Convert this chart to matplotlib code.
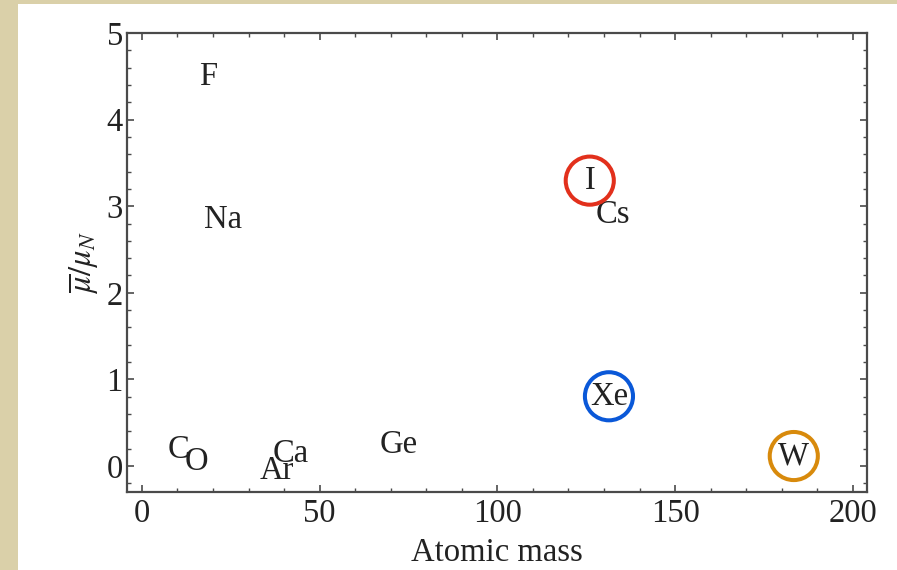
import matplotlib
matplotlib.use("Agg")
import matplotlib.pyplot as plt
from matplotlib.patches import Rectangle
from matplotlib.ticker import MultipleLocator
from matplotlib.transforms import offset_copy

plt.rcParams['font.family'] = ['Liberation Serif', 'DejaVu Serif']
plt.rcParams['mathtext.fontset'] = 'stix'

# Element labels placed at (atomic mass, mean moment / nuclear magneton)
elements = ['C', 'O', 'F', 'Na', 'Ar', 'Ca', 'Ge', 'I', 'Cs', 'Xe', 'W']
atomic_mass = [10.3, 15.2, 18.7, 22.9, 38.0, 41.9, 72.3, 126.0, 132.5, 131.4, 183.4]
moment = [0.22, 0.08, 4.53, 2.88, -0.02, 0.18, 0.28, 3.33, 2.94, 0.84, 0.15]

# Highlighted elements and their ring colours
highlighted = ['I', 'Xe', 'W']
ring_colors = ['#E2301C', '#0A58D8', '#D88A0C']

W_PX, H_PX = 897, 570
fig = plt.figure(figsize=(W_PX / 100, H_PX / 100), dpi=100)
fig.patch.set_facecolor('#DAD0A9')

# white slide panel behind the axes
fig.patches.append(Rectangle((18 / W_PX, 0), 1 - 18 / W_PX, 1 - 4 / H_PX,
                             transform=fig.transFigure, facecolor='white',
                             edgecolor='none', zorder=-5))

ax = fig.add_axes([127 / W_PX, (H_PX - 492) / H_PX,
                   (867 - 127) / W_PX, (492 - 33) / H_PX])
ax.set_facecolor('white')
ax.set_xlim(-4.2, 204)
ax.set_ylim(-0.3, 5.0)

txt_color = '#222222'
spine_color = '#4a4a4a'
fs = 23.5

# nudge labels down so the glyphs (not the descender box) sit on the point
label_tf = offset_copy(ax.transData, fig=fig, x=0, y=-3, units='dots')
for name, x, y in zip(elements, atomic_mass, moment):
    ax.text(x, y, name, ha='center', va='center', fontsize=fs,
            color=txt_color, transform=label_tf)

# rings around the highlighted labels, sharing the same offset
for name, col in zip(highlighted, ring_colors):
    i = elements.index(name)
    ax.scatter([atomic_mass[i]], [moment[i]], s=1200, facecolors='none',
               edgecolors=col, linewidths=2.9, zorder=3, transform=label_tf)

ax.xaxis.set_major_locator(MultipleLocator(50))
ax.xaxis.set_minor_locator(MultipleLocator(10))
ax.yaxis.set_major_locator(MultipleLocator(1))
ax.yaxis.set_minor_locator(MultipleLocator(0.2))

ax.tick_params(which='both', direction='in', top=True, right=True,
               color=spine_color, labelcolor=txt_color, labelsize=fs)
ax.tick_params(which='major', length=5, width=1.2)
ax.tick_params(which='minor', length=3, width=1.0)
ax.tick_params(axis='x', which='major', pad=5)
ax.tick_params(axis='y', which='major', pad=3)

for sp in ax.spines.values():
    sp.set_color(spine_color)
    sp.set_linewidth(1.6)

ax.set_xlabel('Atomic mass', fontsize=fs, color=txt_color, labelpad=6)
ax.set_ylabel(r'$\overline{\mu}/\mu_N$', fontsize=fs, color=txt_color, labelpad=4)

fig.savefig('out.png', dpi=100, facecolor=fig.get_facecolor())
